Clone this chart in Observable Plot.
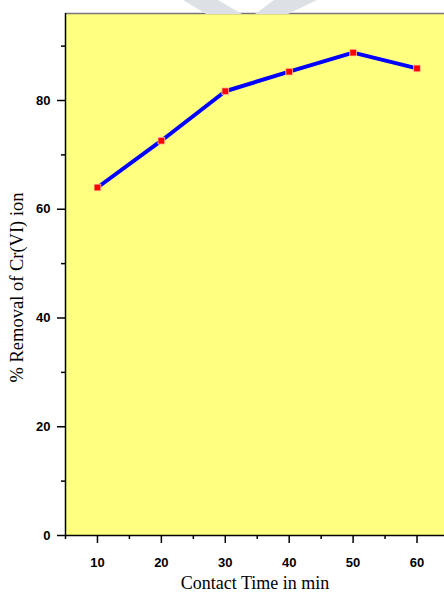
<!DOCTYPE html>
<html>
<head>
<meta charset="utf-8">
<script src="https://cdn.jsdelivr.net/npm/d3@7"></script>
<script src="https://cdn.jsdelivr.net/npm/@observablehq/plot@0.6"></script>
<style>
  html, body { margin: 0; padding: 0; background: #fff; }
  #chart { position: relative; width: 444px; height: 597px; overflow: hidden; }
  #wm { position: absolute; left: 0; top: 0; }
  #chart svg.plot { position: absolute; left: 0; top: 0; }
</style>
</head>
<body>
<div id="chart">
  <svg id="wm" width="444" height="20">
    <polygon points="183,0 218,0 242,14 206,14" fill="#dde1e6"/>
    <polygon points="274,0 317,0 288,14 255,14" fill="#dde1e6"/>
  </svg>
</div>
<script>
const times = [10, 20, 30, 40, 50, 60];
const removal = [64.0, 72.6, 81.7, 85.3, 88.8, 85.9];
const xMajor = [10, 20, 30, 40, 50, 60];
const xMinor = [5, 15, 25, 35, 45, 55];
const yMajor = [0, 20, 40, 60, 80];
const yMinor = [10, 30, 50, 70, 90];
const xDomain = [5, 64.3];
const yDomain = [0, 96];
const xTitle = "Contact Time in min";
const yTitle = "% Removal of Cr(VI) ion";

const data = times.map((t, i) => ({t, r: removal[i]}));
const sans = "'Liberation Sans', Arial, sans-serif";
const serif = "'Liberation Serif', 'Times New Roman', serif";

const plot = Plot.plot({
  width: 444,
  height: 597,
  marginLeft: 65,
  marginTop: 13,
  marginRight: 0,
  marginBottom: 62,
  x: {domain: xDomain},
  y: {domain: yDomain},
  style: {background: "transparent", fontFamily: sans},
  marks: [
    Plot.frame({fill: "#ffff80", stroke: null}),
    Plot.ruleY([yDomain[1]], {stroke: "#777", strokeWidth: 1.6}),
    Plot.axisX({ticks: xMajor, tickSize: 8, text: null, label: null, stroke: "#000", strokeWidth: 1.5}),
    Plot.axisX({ticks: xMinor, tickSize: 4, text: null, label: null, stroke: "#000", strokeWidth: 1.5}),
    Plot.axisY({ticks: yMajor, tickSize: 8, text: null, label: null, stroke: "#000", strokeWidth: 1.5}),
    Plot.axisY({ticks: yMinor, tickSize: 4, text: null, label: null, stroke: "#000", strokeWidth: 1.5}),
    Plot.text(xMajor, {x: d => d, frameAnchor: "bottom", dy: 27, lineAnchor: "middle", text: d => String(d),
      fontSize: 13, fontWeight: "bold", fill: "#000", fontFamily: sans}),
    Plot.text(yMajor, {y: d => d, frameAnchor: "left", dx: -15, textAnchor: "end", text: d => String(d),
      fontSize: 13, fontWeight: "bold", fill: "#000", fontFamily: sans}),
    Plot.ruleX([xDomain[0]], {stroke: "#000", strokeWidth: 1.5}),
    Plot.ruleY([yDomain[0]], {stroke: "#000", strokeWidth: 1.5}),
    Plot.line(data, {x: "t", y: "r", stroke: "#0000ff", strokeWidth: 4}),
    Plot.dot(data, {x: "t", y: "r", symbol: "square", r: 3.8, fill: "#ff0000", stroke: "#ffd0a0", strokeWidth: 0.8}),
    Plot.text([xTitle], {frameAnchor: "bottom", dy: 53, fontSize: 18, fill: "#000", textAnchor: "middle", fontFamily: serif}),
    Plot.text([yTitle], {frameAnchor: "left", dx: -48, dy: 13, rotate: -90, fontSize: 18.5, fill: "#000", textAnchor: "middle", fontFamily: serif})
  ]
});
document.getElementById("chart").appendChild(plot);
</script>
</body>
</html>
